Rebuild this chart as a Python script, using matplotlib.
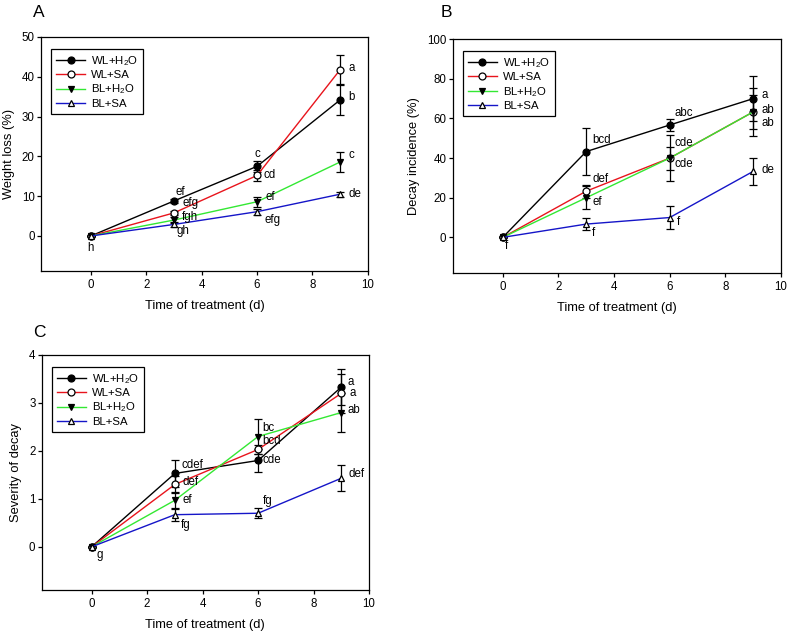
import matplotlib
matplotlib.use('Agg')
import matplotlib.pyplot as plt

plt.rcParams['font.family'] = ['Liberation Sans', 'DejaVu Sans']
plt.rcParams['mathtext.fontset'] = 'custom'
plt.rcParams['mathtext.rm'] = 'Liberation Sans'

# ---------------- data ----------------
days = [0, 3, 6, 9]
series_names = ['WL+H$_2$O', 'WL+SA', 'BL+H$_2$O', 'BL+SA']

# Panel A: weight loss (%)
wl_h2o_a = [0, 8.8, 17.5, 34.2]
wl_sa_a = [0, 5.8, 15.2, 41.8]
bl_h2o_a = [0, 4.0, 8.6, 18.6]
bl_sa_a = [0, 2.9, 6.1, 10.5]
wl_h2o_a_err = [0, 0.5, 1.4, 3.8]
wl_sa_a_err = [0, 0.5, 1.3, 3.7]
bl_h2o_a_err = [0, 0.8, 1.3, 2.6]
bl_sa_a_err = [0, 0.6, 0.8, 0.6]
wl_h2o_a_let = ['h', 'ef', 'c', 'b']
wl_sa_a_let = ['', 'efg', 'cd', 'a']
bl_h2o_a_let = ['', 'fgh', 'ef', 'c']
bl_sa_a_let = ['', 'gh', 'efg', 'de']

# Panel B: decay incidence (%)
wl_h2o_b = [0, 43.3, 56.7, 70.0]
wl_sa_b = [0, 23.3, 40.0, 63.3]
bl_h2o_b = [0, 20.0, 40.0, 63.3]
bl_sa_b = [0, 6.7, 10.0, 33.3]
wl_h2o_b_err = [0, 12.0, 3.0, 11.5]
wl_sa_b_err = [0, 3.3, 11.5, 12.0]
bl_h2o_b_err = [0, 5.8, 5.8, 8.7]
bl_sa_b_err = [0, 3.0, 5.8, 6.7]
wl_h2o_b_let = ['f', 'bcd', 'abc', 'a']
wl_sa_b_let = ['', 'def', 'cde', 'ab']
bl_h2o_b_let = ['', 'ef', 'cde', 'ab']
bl_sa_b_let = ['', 'f', 'f', 'de']

# Panel C: severity of decay
wl_h2o_c = [0, 1.53, 1.80, 3.33]
wl_sa_c = [0, 1.30, 2.03, 3.20]
bl_h2o_c = [0, 0.97, 2.30, 2.80]
bl_sa_c = [0, 0.67, 0.70, 1.43]
wl_h2o_c_err = [0, 0.28, 0.25, 0.37]
wl_sa_c_err = [0, 0.17, 0.10, 0.40]
bl_h2o_c_err = [0, 0.18, 0.37, 0.40]
bl_sa_c_err = [0, 0.13, 0.10, 0.27]
wl_h2o_c_let = ['g', 'cdef', 'cde', 'a']
wl_sa_c_let = ['', 'def', 'bcd', 'a']
bl_h2o_c_let = ['', 'ef', 'bc', 'ab']
bl_sa_c_let = ['', 'fg', 'fg', 'def']

# ---------------- styles ----------------
colors = ['black', '#e8141c', '#33e833', '#1515c8']
markers = ['o', 'o', 'v', '^']
mfaces = ['black', 'white', 'black', 'white']

# label offsets in pixels (dx, dy) per series per point
offs_a = [
    [(0, -12, 'center'), (6, 9, 'center'), (0, 12, 'center'), (8, 3, 'left')],
    [None, (9, 10, 'left'), (6, 0, 'left'), (8, 2, 'left')],
    [None, (8, 3, 'left'), (8, 5, 'left'), (8, 7, 'left')],
    [None, (3, -7, 'left'), (7, -8, 'left'), (8, 0, 'left')],
]
offs_b = [
    [(2, -9, 'left'), (6, 12, 'left'), (5, 12, 'left'), (8, 4, 'left')],
    [None, (6, 12, 'left'), (5, 15, 'left'), (8, 2, 'left')],
    [None, (6, -4, 'left'), (5, -6, 'left'), (8, -11, 'left')],
    [None, (6, -9, 'left'), (7, -4, 'left'), (8, 1, 'left')],
]
offs_c = [
    [(5, -8, 'left'), (7, 8, 'left'), (4, 0, 'left'), (6, 5, 'left')],
    [None, (8, 2, 'left'), (4, 8, 'left'), (8, 0, 'left')],
    [None, (8, 0, 'left'), (4, 9, 'left'), (6, 3, 'left')],
    [None, (6, -10, 'left'), (5, 12, 'left'), (7, 4, 'left')],
]

panels = [
    dict(rect=[0.052, 0.5712, 0.4155, 0.3703], ylim=(-8.8, 50), yticks=[0, 10, 20, 30, 40, 50],
         ylabel='Weight loss (%)', letter='A', letter_xy=(33, 17),
         vals=[wl_h2o_a, wl_sa_a, bl_h2o_a, bl_sa_a],
         errs=[wl_h2o_a_err, wl_sa_a_err, bl_h2o_a_err, bl_sa_a_err],
         lets=[wl_h2o_a_let, wl_sa_a_let, bl_h2o_a_let, bl_sa_a_let], offs=offs_a),
    dict(rect=[0.5752, 0.568, 0.4172, 0.370], ylim=(-18, 100), yticks=[0, 20, 40, 60, 80, 100],
         ylabel='Decay incidence (%)', letter='B', letter_xy=(441, 17),
         vals=[wl_h2o_b, wl_sa_b, bl_h2o_b, bl_sa_b],
         errs=[wl_h2o_b_err, wl_sa_b_err, bl_h2o_b_err, bl_sa_b_err],
         lets=[wl_h2o_b_let, wl_sa_b_let, bl_h2o_b_let, bl_sa_b_let], offs=offs_b),
    dict(rect=[0.053, 0.0665, 0.4159, 0.3718], ylim=(-0.9, 4), yticks=[0, 1, 2, 3, 4],
         ylabel='Severity of decay', letter='C', letter_xy=(33, 337),
         vals=[wl_h2o_c, wl_sa_c, bl_h2o_c, bl_sa_c],
         errs=[wl_h2o_c_err, wl_sa_c_err, bl_h2o_c_err, bl_sa_c_err],
         lets=[wl_h2o_c_let, wl_sa_c_let, bl_h2o_c_let, bl_sa_c_let], offs=offs_c),
]

W, H = 787, 632
fig = plt.figure(figsize=(W / 100, H / 100), dpi=100)

for p in panels:
    ax = fig.add_axes(p['rect'])
    for i in range(4):
        ax.errorbar(days, p['vals'][i], yerr=p['errs'][i], fmt='none', ecolor='black',
                    elinewidth=0.9, capsize=3.2, capthick=0.9, zorder=2)
        ax.plot(days, p['vals'][i], color=colors[i], lw=1.0, marker=markers[i],
                markersize=5.0, markerfacecolor=mfaces[i], markeredgecolor='black',
                markeredgewidth=0.9, label=series_names[i], zorder=3)
        for j, t in enumerate(p['lets'][i]):
            o = p['offs'][i][j]
            if t and o is not None:
                ax.annotate(t, (days[j], p['vals'][i][j]), xytext=(o[0], o[1]),
                            textcoords='offset pixels', ha=o[2], va='center',
                            fontsize=8.3, zorder=4)
    ax.set_xlim(-1.8, 10)
    ax.set_ylim(*p['ylim'])
    ax.set_xticks([0, 2, 4, 6, 8, 10])
    ax.set_yticks(p['yticks'])
    ax.tick_params(direction='out', length=3, width=0.9, labelsize=8.3, pad=1.5,
                   top=False, right=False)
    ax.tick_params(axis='x', pad=2.5)
    for s in ax.spines.values():
        s.set_linewidth(0.9)
    ax.set_xlabel('Time of treatment (d)', fontsize=9.3, labelpad=7)
    ax.set_ylabel(p['ylabel'], fontsize=9.3, labelpad=5)
    leg = ax.legend(loc='upper left', bbox_to_anchor=(0.03, 0.95), fontsize=8.2,
                    frameon=True, fancybox=False, edgecolor='black', framealpha=1,
                    handlelength=2.6, labelspacing=0.22, borderpad=0.45, handletextpad=0.5,
                    borderaxespad=0)
    leg.get_frame().set_linewidth(0.9)
    fig.text(p['letter_xy'][0] / W, 1 - p['letter_xy'][1] / H, p['letter'],
             fontsize=12.5, ha='left', va='baseline')

fig.savefig('out.png', dpi=100)
